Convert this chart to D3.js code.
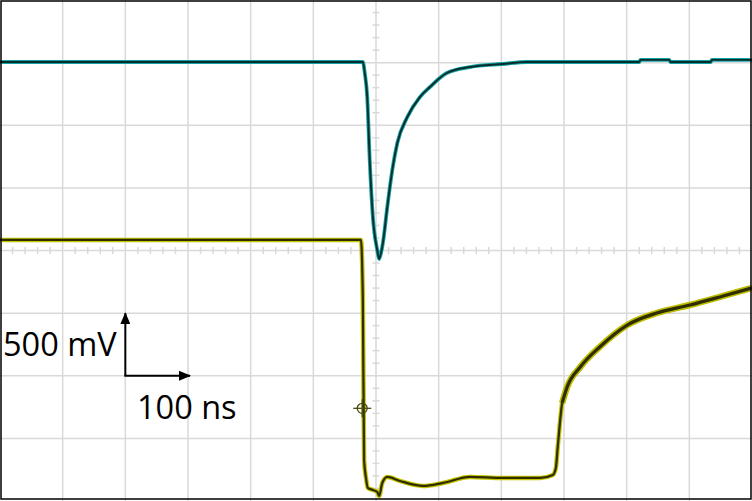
<!DOCTYPE html>
<html>
<head>
<meta charset="utf-8">
<script src="https://cdn.jsdelivr.net/npm/d3@7"></script>
<style>
    html, body { margin: 0; padding: 0; background: #fff; }
    svg { display: block; }
</style>
</head>
<body>
<div id="chart"></div>
<script>
// screen spans 12 x 100 ns and 8 x 500 mV
const timeRange = [-600, 600],
    voltRange = [-2000, 2000],
    timePerDiv = 100,
    voltPerDiv = 500;

// channel 2 (teal)
const tealTime = [-600, -21, -18, -14, -10, -5, 2, 5, 8, 11, 18, 26, 34, 50, 70, 86, 113, 150, 202, 241, 420, 422, 468, 470, 534, 536, 600];
const tealMv = [1505, 1505, 1420, 1225, 722, 267, 4, -68, -20, 60, 347, 643, 858, 1066, 1225, 1305, 1417, 1465, 1489, 1505, 1505, 1522, 1522, 1505, 1505, 1522, 1522];

// channel 1 (yellow)
const yellowTime = [-600, -24, -21, -19, -16, -13, -5, 2, 5, 10, 18, 38, 75, 107, 150, 203, 262, 282, 287, 290, 297, 305, 326, 357, 401, 448, 501, 554, 600];
const yellowMv = [84, 84, -395, -1673, -1816, -1896, -1912, -1928, -1960, -1856, -1808, -1840, -1880, -1856, -1808, -1816, -1816, -1792, -1736, -1569, -1218, -1090, -930, -770, -595, -499, -435, -363, -299];

// yellow recovery is smeared over several acquisitions from here on
const smearFrom = 295;

// trigger marker
const triggerTime = -22,
    triggerMv = -1260;

// scale annotation
const scaleLabels = ['500 mV', '100 ns'];

const width = 752,
    height = 501;

const svg = d3.select('#chart').append('svg')
    .attr('width', width)
    .attr('height', height);

const x = d3.scaleLinear().domain(timeRange).range([0, width]);
const y = d3.scaleLinear().domain(voltRange).range([height, 0]);

// grid
const gridColor = '#d9d9d9';
const grid = svg.append('g');

grid.selectAll('.vgrid')
    .data(d3.range(timeRange[0] + timePerDiv, timeRange[1], timePerDiv))
    .enter().append('line')
    .attr('x1', d => x(d)).attr('x2', d => x(d))
    .attr('y1', 0).attr('y2', height)
    .attr('stroke', gridColor).attr('stroke-width', 1.5);

grid.selectAll('.hgrid')
    .data(d3.range(voltRange[0] + voltPerDiv, voltRange[1], voltPerDiv))
    .enter().append('line')
    .attr('y1', d => y(d)).attr('y2', d => y(d))
    .attr('x1', 0).attr('x2', width)
    .attr('stroke', gridColor).attr('stroke-width', 1.5);

// minor ticks on centre axes
grid.selectAll('.xtick')
    .data(d3.range(timeRange[0], timeRange[1], timePerDiv / 5).filter(d => d % timePerDiv !== 0))
    .enter().append('line')
    .attr('x1', d => x(d)).attr('x2', d => x(d))
    .attr('y1', y(0) - 3.5).attr('y2', y(0) + 3.5)
    .attr('stroke', gridColor).attr('stroke-width', 1.5);

grid.selectAll('.ytick')
    .data(d3.range(voltRange[0], voltRange[1], voltPerDiv / 5).filter(d => d % voltPerDiv !== 0))
    .enter().append('line')
    .attr('y1', d => y(d)).attr('y2', d => y(d))
    .attr('x1', x(0) - 3.5).attr('x2', x(0) + 3.5)
    .attr('stroke', gridColor).attr('stroke-width', 1.5);

// traces
const line = d3.line()
    .x(d => x(d[0]))
    .y(d => y(d[1]))
    .curve(d3.curveMonotoneX);

function trace(pts, outer, inner, w) {
    svg.append('path')
        .datum(pts)
        .attr('d', line)
        .attr('fill', 'none')
        .attr('stroke', outer)
        .attr('stroke-width', w)
        .attr('stroke-linejoin', 'round');
    svg.append('path')
        .datum(pts)
        .attr('d', line)
        .attr('fill', 'none')
        .attr('stroke', inner)
        .attr('stroke-width', w * 0.5)
        .attr('stroke-linejoin', 'round');
}

const yellowPts = d3.zip(yellowTime, yellowMv);
trace(yellowPts, '#c4c400', '#2e2e00', 4.5);
trace(yellowPts.filter(d => d[0] >= smearFrom), '#bebe00', '#2e2e00', 6.5);
trace(d3.zip(tealTime, tealMv), '#12a4a4', '#0b2c2c', 3.8);

// trigger marker
const tx = x(triggerTime),
    ty = y(triggerMv);

const marker = svg.append('g')
    .attr('stroke', '#4a4a10')
    .attr('stroke-width', 1.3)
    .attr('fill', 'none');

marker.append('circle').attr('cx', tx).attr('cy', ty).attr('r', 5);
marker.append('line').attr('x1', tx - 9).attr('x2', tx + 9).attr('y1', ty).attr('y2', ty);
marker.append('line').attr('x1', tx).attr('x2', tx).attr('y1', ty - 9).attr('y2', ty + 9);

// scale annotation: one division each way
const ox = x(-400),
    oy = y(-2000 + 2 * voltPerDiv);

const defs = svg.append('defs');
defs.append('marker')
    .attr('id', 'arrow')
    .attr('viewBox', '0 0 12 10')
    .attr('refX', 11).attr('refY', 5)
    .attr('markerWidth', 12).attr('markerHeight', 10)
    .attr('markerUnits', 'userSpaceOnUse')
    .attr('orient', 'auto')
    .append('path')
    .attr('d', 'M0,0 L12,5 L0,10 Z')
    .attr('fill', '#000');

svg.append('line')
    .attr('x1', ox).attr('y1', oy)
    .attr('x2', ox).attr('y2', oy - (y(0) - y(voltPerDiv)))
    .attr('stroke', '#000').attr('stroke-width', 2)
    .attr('marker-end', 'url(#arrow)');

svg.append('line')
    .attr('x1', ox - 1).attr('y1', oy)
    .attr('x2', x(-400 + timePerDiv) + 2).attr('y2', oy)
    .attr('stroke', '#000').attr('stroke-width', 2)
    .attr('marker-end', 'url(#arrow)');

svg.append('text')
    .attr('x', 3).attr('y', 356)
    .attr('font-family', 'Open Sans, sans-serif')
    .attr('font-size', 32.5)
    .attr('fill', '#000')
    .text(scaleLabels[0]);

svg.append('text')
    .attr('x', 137).attr('y', 419)
    .attr('font-family', 'Open Sans, sans-serif')
    .attr('font-size', 32.5)
    .attr('fill', '#000')
    .text(scaleLabels[1]);

// frame
svg.append('rect')
    .attr('x', 1).attr('y', 1)
    .attr('width', width - 2).attr('height', height - 3)
    .attr('fill', 'none')
    .attr('stroke', '#000')
    .attr('stroke-width', 1.5);
</script>
</body>
</html>
